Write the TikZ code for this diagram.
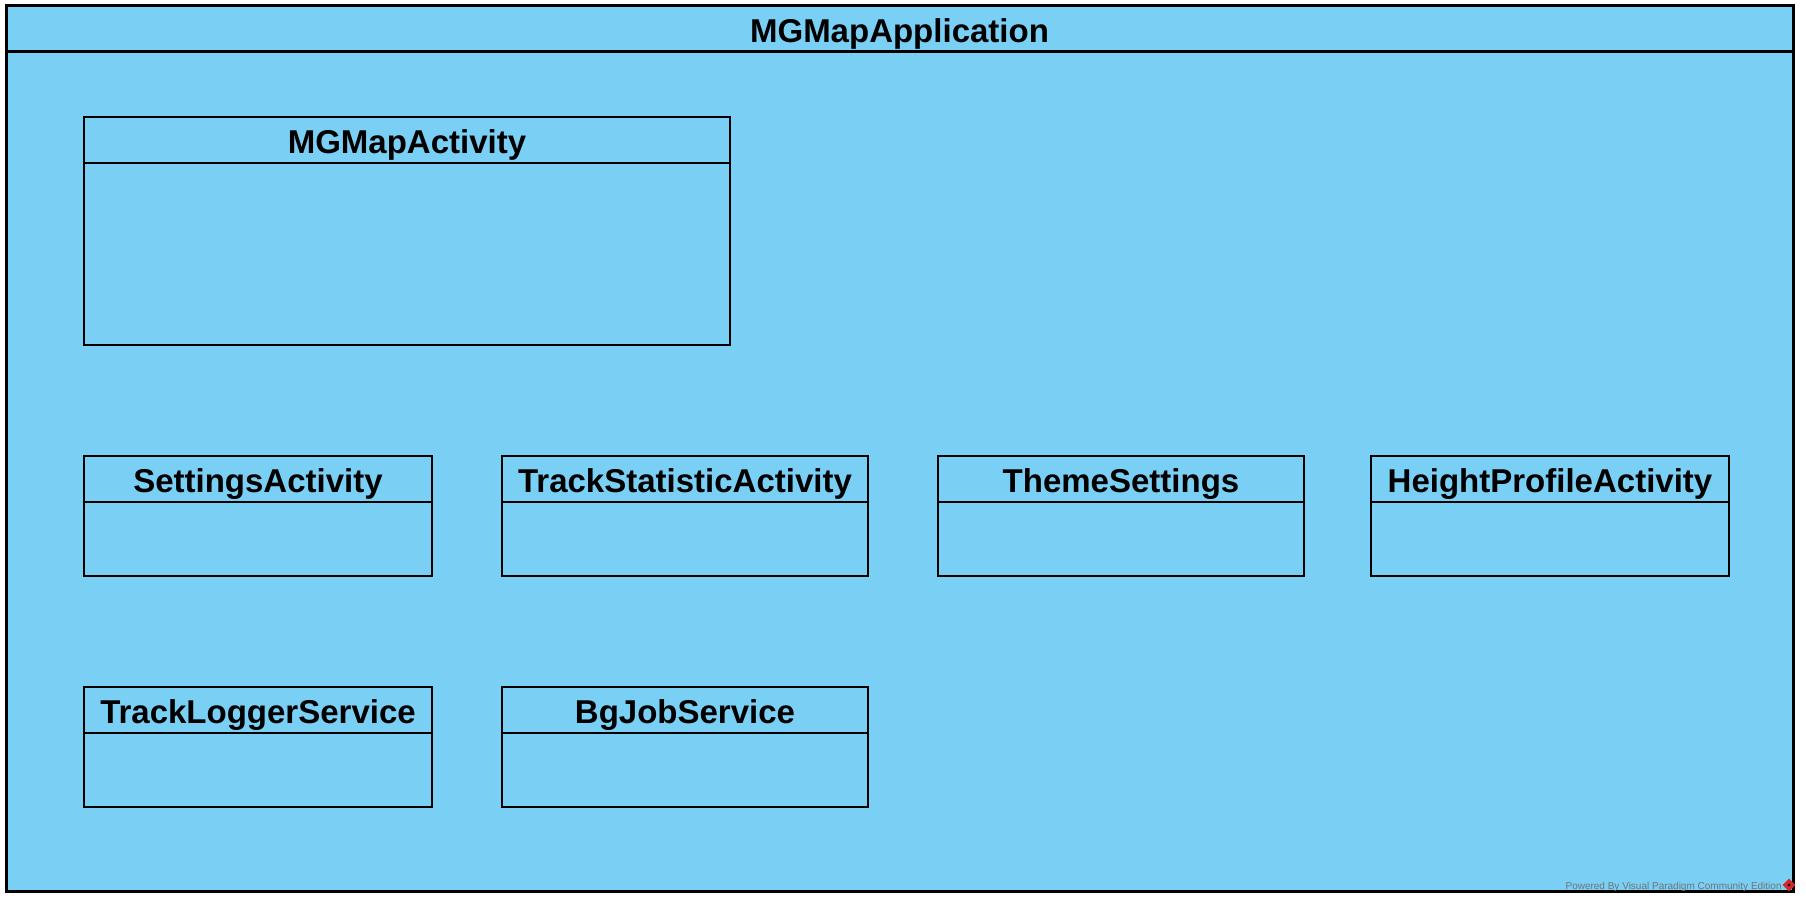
\documentclass[tikz,border=0pt]{standalone}
\usepackage{fontspec}
\setmainfont{Liberation Sans}
\definecolor{vpblue}{RGB}{122,207,245}
\definecolor{vpgray}{RGB}{115,115,115}
\definecolor{vpred}{RGB}{210,40,40}
\tikzset{
  classframe/.style={draw=black, line width=1.2pt, fill=vpblue},
  classname/.style={font=\fontsize{16.5}{18}\bfseries\selectfont, anchor=base, inner sep=0pt},
}

\begin{document}
\begin{tikzpicture}[x=0.5pt, y=-0.5pt]
      \useasboundingbox (0,0) rectangle (1806,903);
      % application frame
      \draw[classframe, line width=1.5pt] (6,6) rectangle (1793,891);
      \draw[line width=1.5pt] (6,52) -- (1793,52);
      \node[classname] (app) at (899.5,43) {MGMapApplication};
      % classes
      \foreach \name/\xa/\ya/\xb/\yb/\txt in {
          mapact/84/117/730/345/MGMapActivity,
          settings/84/456/432/576/SettingsActivity,
          trackstat/502/456/868/576/TrackStatisticActivity,
          theme/938/456/1304/576/ThemeSettings,
          height/1371/456/1729/576/HeightProfileActivity,
          logger/84/687/432/807/TrackLoggerService,
          bgjob/502/687/868/807/BgJobService} {
        \draw[classframe] (\xa,\ya) rectangle (\xb,\yb);
        \draw[line width=1.2pt] (\xa,\ya+46) -- (\xb,\ya+46);
        \node[classname] (\name) at ({(\xa+\xb)/2},\ya+37) {\txt};
      }
      % footer
      \node[font=\fontsize{5}{6}\selectfont, text=vpgray, anchor=base east, inner sep=0pt]
        (vpnote) at (1782,889) {Powered By Visual Paradigm Community Edition};
      \node[fill=vpred, rotate=45, minimum size=4.5pt, inner sep=0pt] (vplogo) at (1789,885) {};
      \node[fill=black, circle, minimum size=1.3pt, inner sep=0pt] at (vplogo.center) {};
\end{tikzpicture}
\end{document}
